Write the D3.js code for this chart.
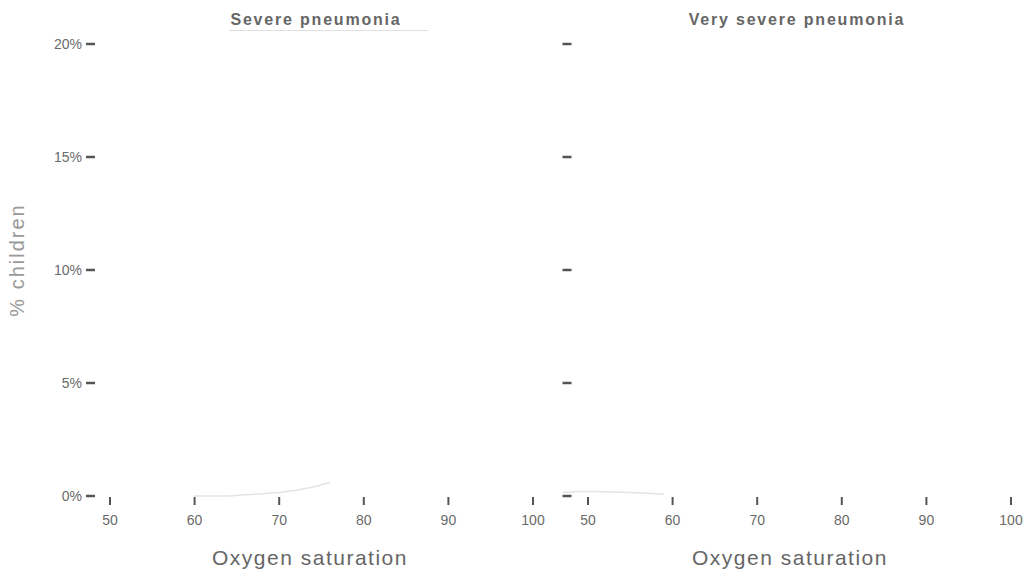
<!DOCTYPE html>
<html>
<head>
<meta charset="utf-8">
<script src="https://cdn.jsdelivr.net/npm/d3@7"></script>
<style>
  body { margin: 0; background: #fff; }
  svg { font-family: "Liberation Sans", Arial, sans-serif; }
</style>
</head>
<body>
<div class="wrapper"></div>
<script>
var panels = ["Severe pneumonia", "Very severe pneumonia"];
var xTicks = [50, 60, 70, 80, 90, 100];
var yTicks = [0, 5, 10, 15, 20];
var yTickLabels = ["0%", "5%", "10%", "15%", "20%"];

// faint traces still visible near the baseline
var severeSat = [60, 62, 64, 66, 68, 70, 72, 74, 76];
var severePct = [0, 0, 0, 0.05, 0.1, 0.15, 0.25, 0.4, 0.6];
var verySat = [47, 49, 51, 53, 55, 57, 59];
var veryPct = [0.15, 0.2, 0.2, 0.18, 0.15, 0.12, 0.08];

var W = 1034, H = 576;
var svg = d3.select(".wrapper").append("svg").attr("width", W).attr("height", H);

var y = d3.scaleLinear().domain([0, 20]).range([496, 44]);
var xs = [
  d3.scaleLinear().domain([50, 100]).range([110, 533]),
  d3.scaleLinear().domain([50, 100]).range([588, 1011])
];
var series = [
  { sat: severeSat, pct: severePct },
  { sat: verySat, pct: veryPct }
];
var titleX = [316, 797];
var axisTitleX = [310, 790];

var line = function (x) {
  return d3.line().x(function (d) { return x(d[0]); }).y(function (d) { return y(d[1]); });
};

panels.forEach(function (name, i) {
  var x = xs[i];
  var g = svg.append("g");

  // data trace
  g.append("path")
    .datum(d3.zip(series[i].sat, series[i].pct))
    .attr("d", line(x))
    .attr("fill", "none")
    .attr("stroke", "#e4e4e4")
    .attr("stroke-width", 1.5);

  // y ticks
  var yAxisX = i === 0 ? 90.5 : 567;
  g.selectAll(".yt").data(yTicks).enter().append("line")
    .attr("x1", yAxisX - 4.5).attr("x2", yAxisX + 4.5)
    .attr("y1", function (d) { return y(d); })
    .attr("y2", function (d) { return y(d); })
    .attr("stroke", "#555").attr("stroke-width", 2.5);
  if (i === 0) {
    g.selectAll(".yl").data(yTicks).enter().append("text")
      .attr("x", 82)
      .attr("y", function (d) { return y(d) + 5; })
      .attr("text-anchor", "end")
      .attr("font-size", 14)
      .attr("fill", "#6a6a6a")
      .text(function (d, j) { return yTickLabels[j]; });
  }

  // x ticks
  g.selectAll(".xt").data(xTicks).enter().append("line")
    .attr("x1", function (d) { return x(d); })
    .attr("x2", function (d) { return x(d); })
    .attr("y1", 497).attr("y2", 505)
    .attr("stroke", "#555").attr("stroke-width", 2);
  g.selectAll(".xl").data(xTicks).enter().append("text")
    .attr("x", function (d) { return x(d); })
    .attr("y", 525)
    .attr("text-anchor", "middle")
    .attr("font-size", 14)
    .attr("fill", "#6a6a6a")
    .text(function (d) { return d; });

  // panel title
  g.append("text")
    .attr("x", titleX[i]).attr("y", 25)
    .attr("text-anchor", "middle")
    .attr("font-size", 16)
    .attr("font-weight", "bold")
    .attr("letter-spacing", 1.8)
    .attr("fill", "#666")
    .text(name);
  if (i === 0) {
    g.append("line")
      .attr("x1", 229).attr("x2", 428).attr("y1", 30.5).attr("y2", 30.5)
      .attr("stroke", "#e0e0e0").attr("stroke-width", 1);
  }

  // x axis title
  g.append("text")
    .attr("x", axisTitleX[i]).attr("y", 565)
    .attr("text-anchor", "middle")
    .attr("font-size", 21)
    .attr("letter-spacing", 1.5)
    .attr("fill", "#666")
    .text("Oxygen saturation");
});

svg.append("text")
  .attr("transform", "translate(24,260) rotate(-90)")
  .attr("text-anchor", "middle")
  .attr("font-size", 20)
  .attr("letter-spacing", 2)
  .attr("fill", "#999")
  .text("% children");
</script>
</body>
</html>
